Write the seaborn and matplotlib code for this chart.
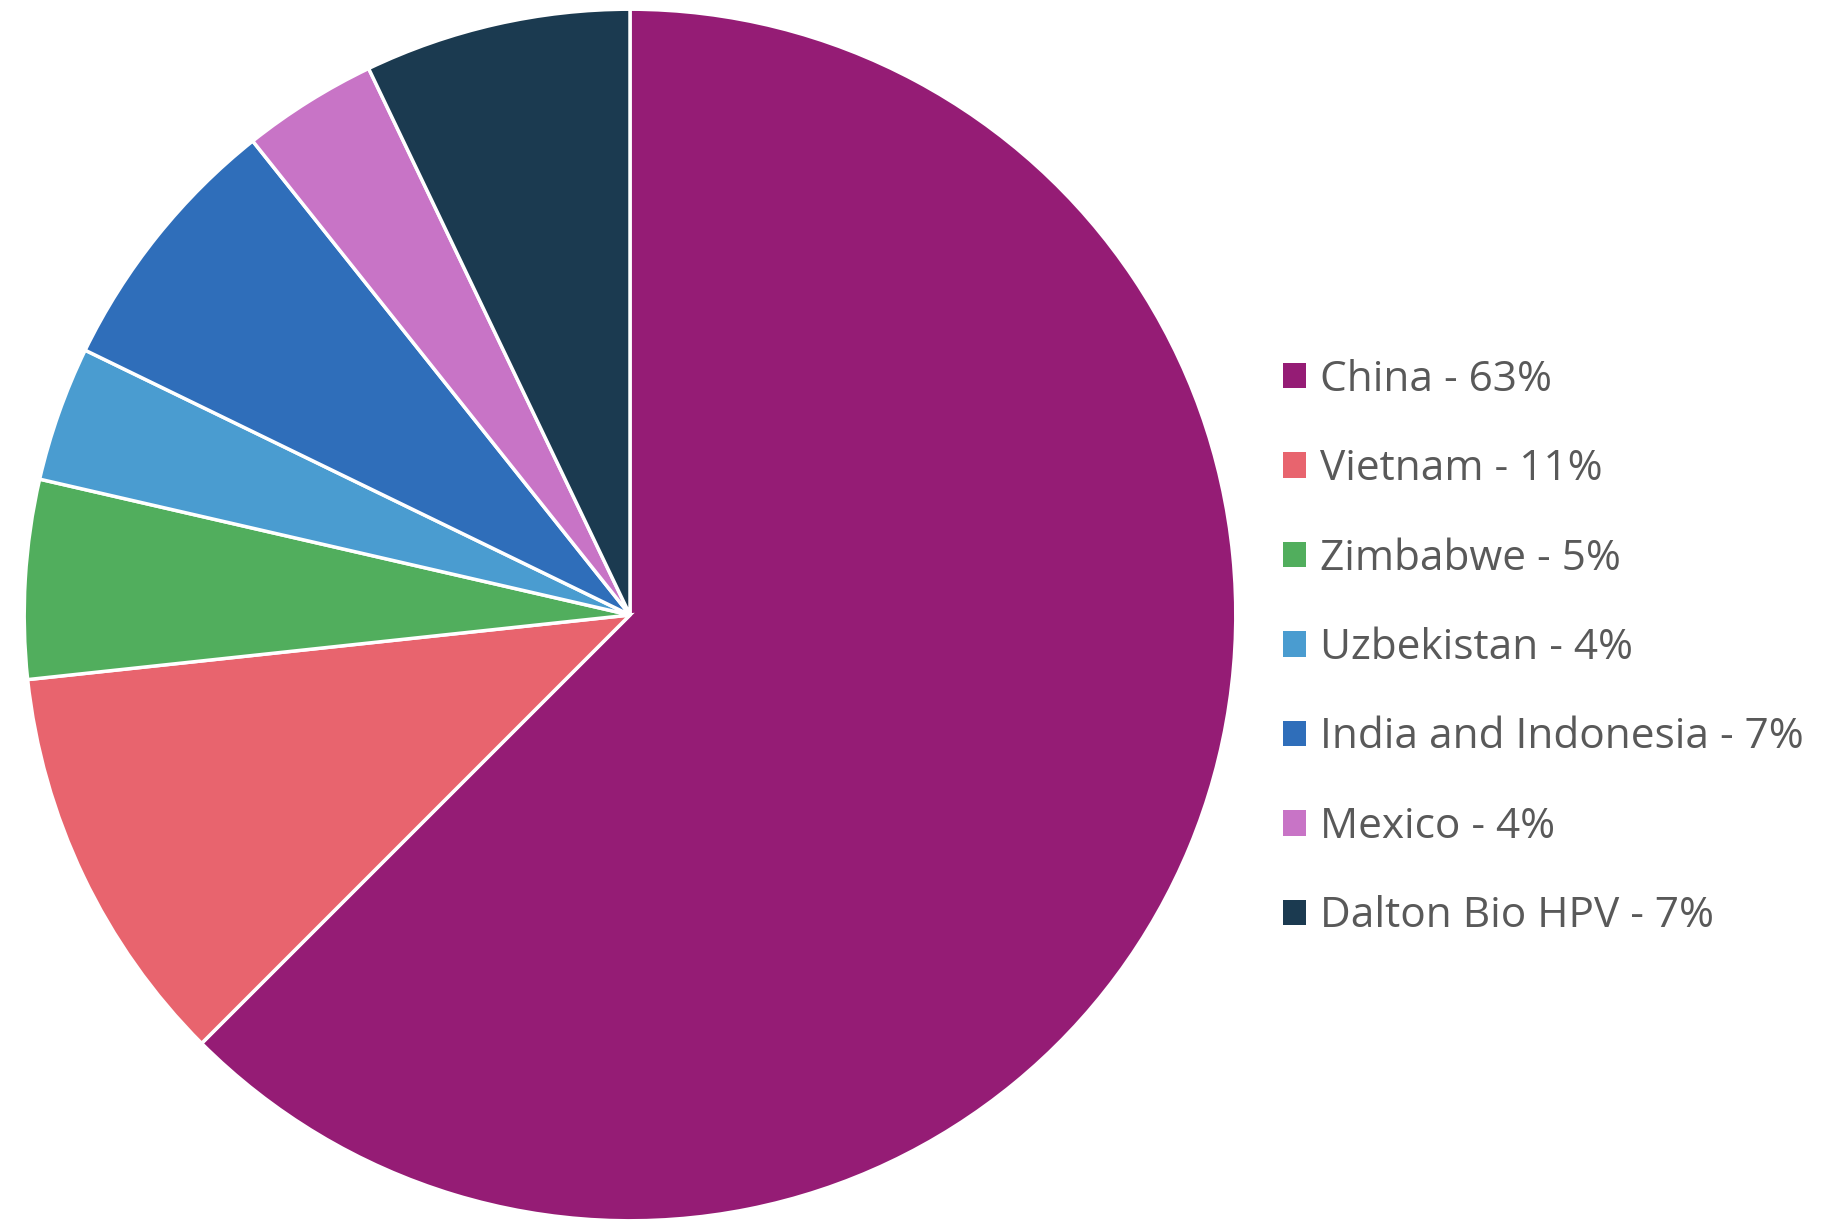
import matplotlib
matplotlib.use("Agg")
import matplotlib.pyplot as plt
import seaborn as sns
from matplotlib.patches import Patch

categories = ["China", "Vietnam", "Zimbabwe", "Uzbekistan", "India and Indonesia", "Mexico", "Dalton Bio HPV"]
values = [62.5, 10.8, 5.3, 3.6, 7.1, 3.6, 7.1]
legend_labels = ["China - 63%", "Vietnam - 11%", "Zimbabwe - 5%", "Uzbekistan - 4%",
                 "India and Indonesia - 7%", "Mexico - 4%", "Dalton Bio HPV - 7%"]
colors = ["#951C75", "#E8646E", "#51AE5D", "#4A9CD0", "#2F6EBA", "#C874C6", "#1B3A50"]

sns.set_theme(style="white")
plt.rcParams['font.family'] = ['Open Sans', 'DejaVu Sans']

fig = plt.figure(figsize=(18.48, 12.22), dpi=100)
ax = fig.add_axes([(630 - 607) / 1848, (1222 - 615 - 607) / 1222, 1214 / 1848, 1214 / 1222])
wedges, _ = ax.pie(values, colors=sns.color_palette(colors), startangle=90, counterclock=False,
                   radius=1.0, wedgeprops=dict(edgecolor="white", linewidth=2.5))
ax.set_xlim(-1.002, 1.002)
ax.set_ylim(-1.002, 1.002)
ax.set_aspect("equal")
ax.axis("off")

handles = [Patch(facecolor=c, edgecolor="none") for c in colors]
leg = fig.legend(handles, legend_labels, loc="center left",
                 bbox_to_anchor=(1283 / 1848, 1 - 648 / 1222),
                 frameon=False, fontsize=30.5, handlelength=0.55, handleheight=0.55,
                 handletextpad=0.32, labelspacing=1.12, borderaxespad=0, borderpad=0)
for t in leg.get_texts():
    t.set_color("#595959")

fig.savefig("out.png", dpi=100, facecolor="white")
